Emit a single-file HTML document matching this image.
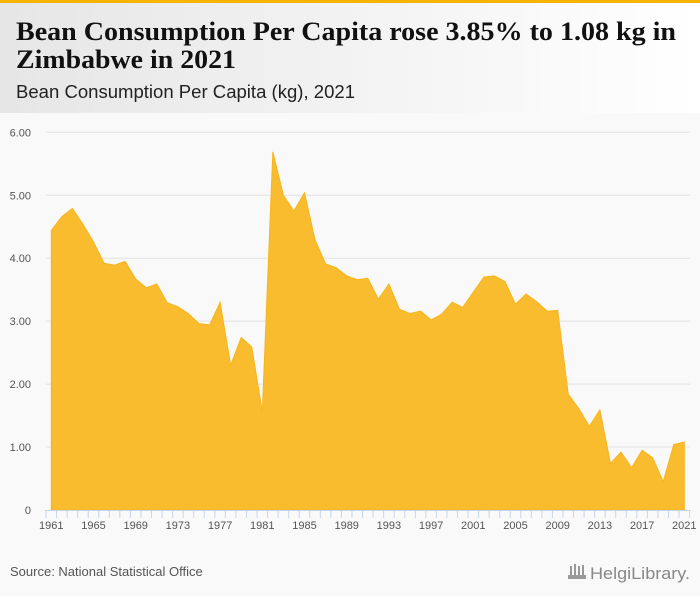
<!DOCTYPE html>
<html><head><meta charset="utf-8"><style>
html,body{margin:0;padding:0;background:#f9f9f9;}
svg{display:block;font-family:"Liberation Sans",sans-serif;}
</style></head><body>
<svg width="700" height="596" viewBox="0 0 700 596">
<defs><linearGradient id="hg" x1="0" x2="1" y1="0" y2="0"><stop offset="0" stop-color="#e6e6e6"/><stop offset="1" stop-color="#ffffff"/></linearGradient></defs>
<rect x="0" y="0" width="700" height="596" fill="#f9f9f9"/>
<rect x="0" y="0" width="700" height="113" fill="url(#hg)"/>
<rect x="0" y="0" width="700" height="3" fill="#f6b300"/>
<text x="16" y="40" font-family="Liberation Serif,serif" font-weight="bold" font-size="26" fill="#111" textLength="660" lengthAdjust="spacingAndGlyphs">Bean Consumption Per Capita rose 3.85% to 1.08 kg in</text>
<text x="16" y="68" font-family="Liberation Serif,serif" font-weight="bold" font-size="26" fill="#111" textLength="220" lengthAdjust="spacingAndGlyphs">Zimbabwe in 2021</text>
<text x="16" y="98" font-size="18" fill="#222" textLength="339" lengthAdjust="spacingAndGlyphs">Bean Consumption Per Capita (kg), 2021</text>
<g id="grid"></g>
<g id="area"></g>
<g id="axes"></g>
<text x="10" y="576" font-size="13" fill="#555">Source: National Statistical Office</text>
<g fill="#999">
<rect x="570" y="566" width="2" height="10"/><rect x="574" y="564" width="2" height="12"/><rect x="578" y="566" width="2" height="10"/><rect x="582" y="565" width="2" height="11"/><rect x="568" y="575" width="18" height="4"/>
<text x="590" y="579" font-size="17" fill="#888" textLength="100" lengthAdjust="spacingAndGlyphs">HelgiLibrary.</text>
</g>
</svg>
<script>
const years=[];for(let y=1961;y<=2021;y++)years.push(y);
const values=[4.44,4.66,4.79,4.54,4.26,3.92,3.89,3.95,3.67,3.53,3.59,3.29,3.23,3.12,2.96,2.94,3.30,2.30,2.74,2.59,1.56,5.69,5.00,4.75,5.04,4.29,3.91,3.85,3.72,3.66,3.68,3.35,3.59,3.19,3.12,3.16,3.02,3.11,3.30,3.22,3.46,3.70,3.72,3.63,3.27,3.43,3.31,3.16,3.17,1.84,1.61,1.33,1.59,0.74,0.92,0.67,0.95,0.83,0.45,1.04,1.08];
const yTicks=[0,1,2,3,4,5,6];
const yTickLabels=["0","1.00","2.00","3.00","4.00","5.00","6.00"];
const xTickYears=[1961,1965,1969,1973,1977,1981,1985,1989,1993,1997,2001,2005,2009,2013,2017,2021];
const NS="http://www.w3.org/2000/svg";
const x0=51.3,x1=684.3,yb=510,yt=132.3,ymax=6;
function xs(y){return x0+(y-1961)*(x1-x0)/(2021-1961);}
function ys(v){return yb-v*(yb-yt)/ymax;}
function mk(t,a,p){const e=document.createElementNS(NS,t);for(const k in a)e.setAttribute(k,a[k]);p.appendChild(e);return e;}
const grid=document.getElementById('grid'),area=document.getElementById('area'),axes=document.getElementById('axes');
yTicks.forEach((v,i)=>{
 if(v>0){const l=mk('line',{x1:46,x2:690,y1:ys(v),y2:ys(v),stroke:'#e2e2e2','stroke-width':1},grid);
 
 }
 const t=mk('text',{x:31,y:ys(v)+4,'font-size':11,fill:'#555','text-anchor':'end'},axes);
 t.textContent=yTickLabels[i];
 
 
});
let d='M'+xs(years[0])+','+yb;
years.forEach((y,i)=>{d+=' L'+xs(y).toFixed(2)+','+ys(values[i]).toFixed(2);});
d+=' L'+xs(years[years.length-1])+','+yb+' Z';
const p=mk('path',{d:d,fill:'#f9bc2e',stroke:'#f7b51c','stroke-width':1},area);


const ax=mk('line',{x1:45,x2:690,y1:yb+0.5,y2:yb+0.5,stroke:'#c8d4e8','stroke-width':1},axes);


for(let y=1960.5;y<=2022;y+=1){
 const x=x0+(y-1961)*(x1-x0)/60;
 if(x<45||x>691)continue;
 const tk=mk('line',{x1:x,x2:x,y1:yb,y2:yb+8,stroke:'#c8d4e8','stroke-width':1},axes);
 
 
}
xTickYears.forEach(y=>{
 const t=mk('text',{x:xs(y),y:yb+19,'font-size':11,fill:'#555','text-anchor':'middle'},axes);
 t.textContent=String(y);
 
 
});
</script>
</body></html>
